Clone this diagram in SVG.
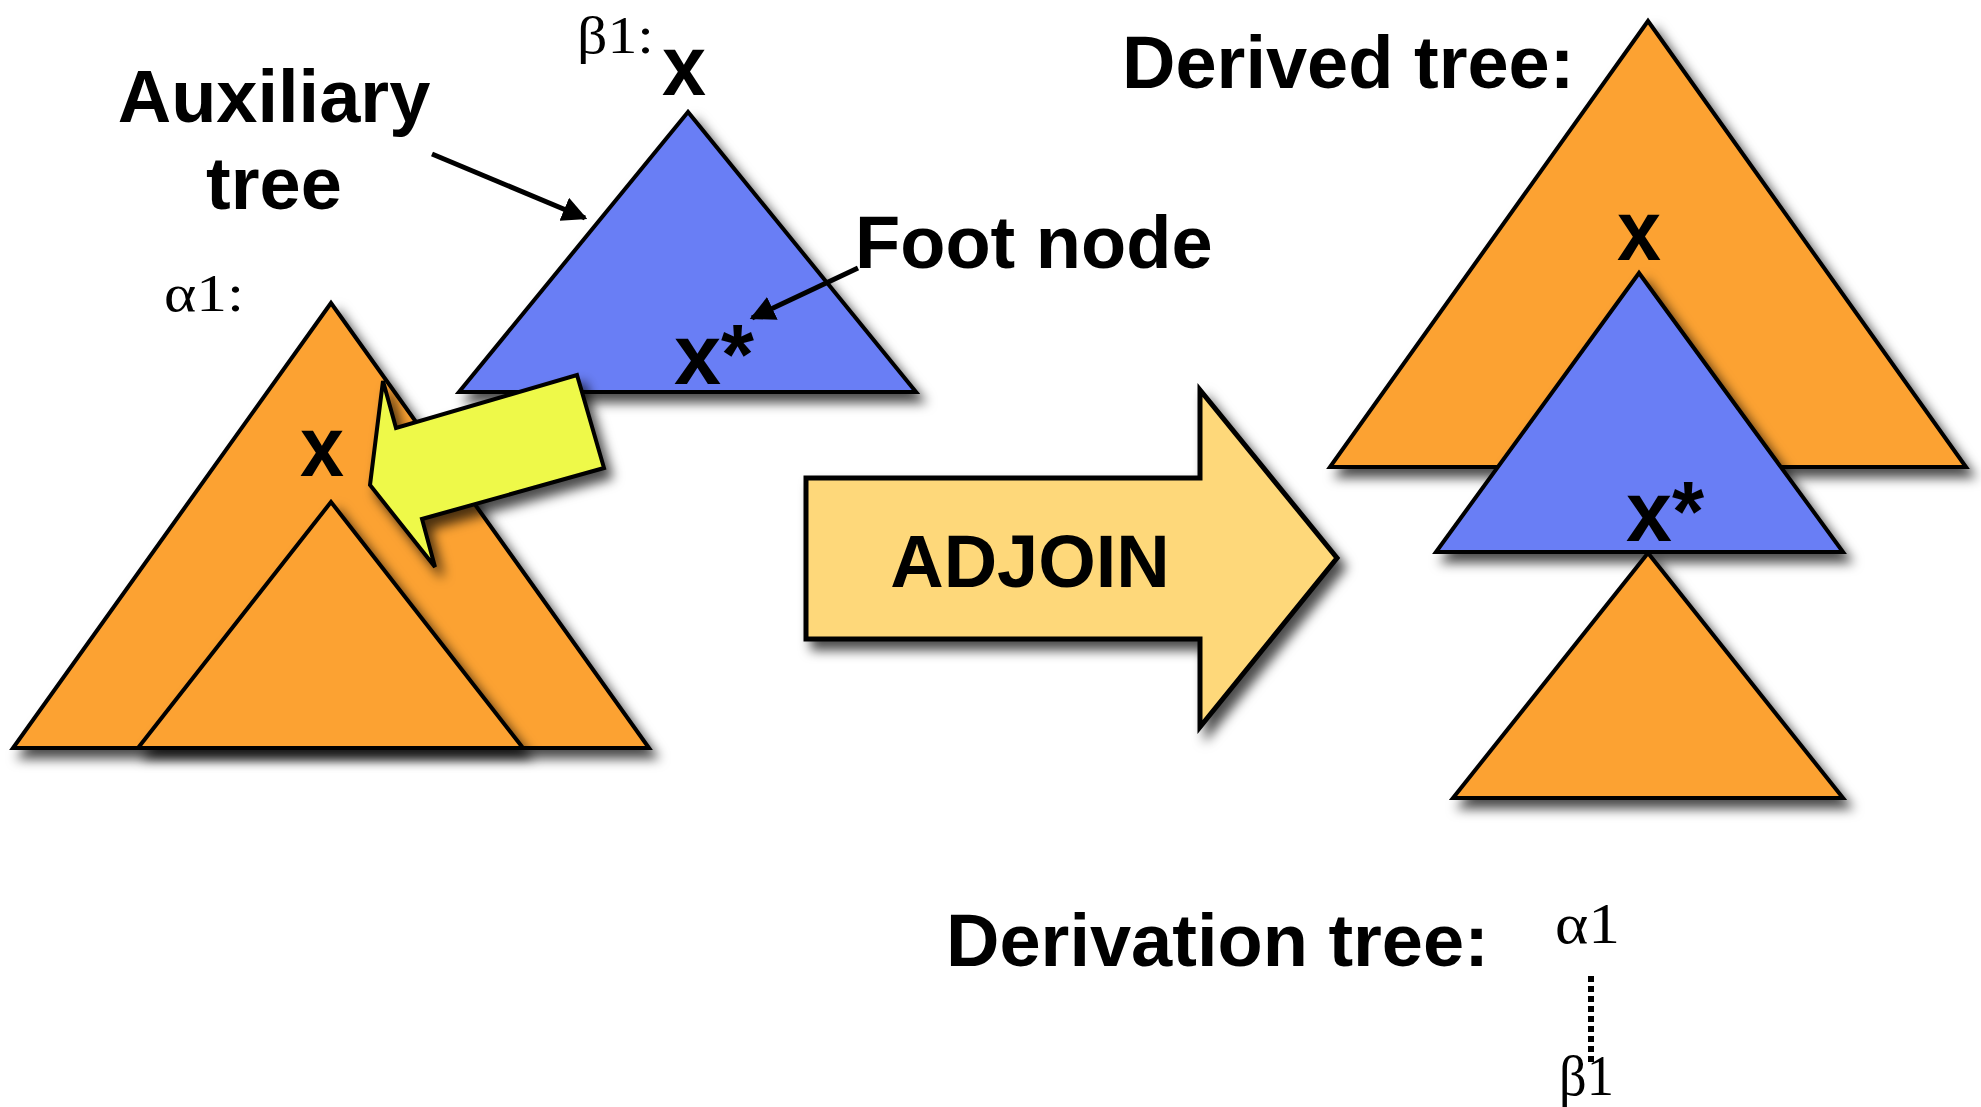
<svg xmlns="http://www.w3.org/2000/svg" width="1981" height="1107" viewBox="0 0 1981 1107">
<style>
  .tri { stroke:#000; stroke-width:4; stroke-linejoin:miter; filter:url(#sh); }
  .or { fill:#FCA232; }
  .bl { fill:#697EF5; }
  .lbl { font-family:"Liberation Sans", Arial, sans-serif; font-weight:bold; font-size:74px; fill:#000; }
  .x { font-family:"Liberation Sans", Arial, sans-serif; font-weight:bold; font-size:86px; fill:#000; }
  .gr { font-family:"Liberation Serif", "Times New Roman", serif; fill:#000; }
  .conn { stroke:#000; stroke-width:5; fill:none; }
</style>
<defs>
  <filter id="sh" x="-20%" y="-20%" width="150%" height="150%">
    <feDropShadow dx="7" dy="9" stdDeviation="6" flood-color="#000" flood-opacity="0.7"/>
  </filter>
  <marker id="ah" viewBox="0 0 10 10" refX="9" refY="5" markerWidth="5" markerHeight="5" orient="auto" markerUnits="strokeWidth">
    <path d="M0,0 L10,5 L0,10 Z" fill="#000"/>
  </marker>
</defs>
<rect width="1981" height="1107" fill="#fff"/>

<g id="alpha1">
  <polygon class="tri or" points="331,303 13,748 649,748"/>
  <polygon class="tri or" points="331,502 138,748 523,748"/>
  <text class="x" x="322" y="476" text-anchor="middle" textLength="44" lengthAdjust="spacingAndGlyphs">x</text>
  <text class="gr" x="164" y="311" font-size="52" textLength="80" lengthAdjust="spacingAndGlyphs">α1:</text>
</g>

<g id="beta1">
  <polygon class="tri bl" points="688,112 459,392 916,392"/>
  <text class="x" x="684" y="95" text-anchor="middle" textLength="44" lengthAdjust="spacingAndGlyphs">x</text>
  <text class="x" x="674" y="384" textLength="80" lengthAdjust="spacingAndGlyphs">x*</text>
  <text class="gr" x="577" y="53" font-size="52" textLength="77" lengthAdjust="spacingAndGlyphs">β1:</text>
</g>

<g id="yellow-arrow">
  <polygon points="370,485 383,381 396,428 577,375 604,468 422,519 435,567" fill="#EEF94A" stroke="#000" stroke-width="4" stroke-linejoin="miter" filter="url(#sh)"/>
</g>

<g id="aux-label">
  <text class="lbl" x="274" y="122" text-anchor="middle">Auxiliary</text>
  <text class="lbl" x="274" y="209" text-anchor="middle">tree</text>
</g>

<g id="foot-label">
  <text class="lbl" x="855" y="268">Foot node</text>
</g>

<g id="adjoin">
  <polygon points="806,478 1200,478 1200,390 1337,558 1200,727 1200,639 806,639" fill="#FED87A" stroke="#000" stroke-width="5" stroke-linejoin="miter" filter="url(#sh)"/>
  <text class="lbl" x="1030" y="587" text-anchor="middle">ADJOIN</text>
</g>

<g id="derived">
  <text class="lbl" x="1122" y="88">Derived tree:</text>
  <polygon class="tri or" points="1648,21 1330,467 1966,467"/>
  <text class="x" x="1639" y="260" text-anchor="middle" textLength="44" lengthAdjust="spacingAndGlyphs">x</text>
  <polygon class="tri bl" points="1639,273 1436,552 1843,552"/>
  <text class="x" x="1626" y="541" textLength="78" lengthAdjust="spacingAndGlyphs">x*</text>
  <polygon class="tri or" points="1648,553 1453,798 1843,798"/>
</g>

<g id="derivation">
  <text class="lbl" x="946" y="966">Derivation tree:</text>
  <text class="gr" x="1555" y="943" font-size="58" textLength="65" lengthAdjust="spacingAndGlyphs">α1</text>
  <text class="gr" x="1559" y="1095" font-size="58" textLength="55" lengthAdjust="spacingAndGlyphs">β1</text>
</g>

<g id="connectors">
  <line class="conn" x1="432" y1="154" x2="585" y2="218" marker-end="url(#ah)"/>
  <polyline class="conn" points="858,268 752,318" marker-end="url(#ah)"/>
  <line x1="1591" y1="976" x2="1591" y2="1063" stroke="#000" stroke-width="6" stroke-dasharray="6 4"/>
</g>
</svg>
